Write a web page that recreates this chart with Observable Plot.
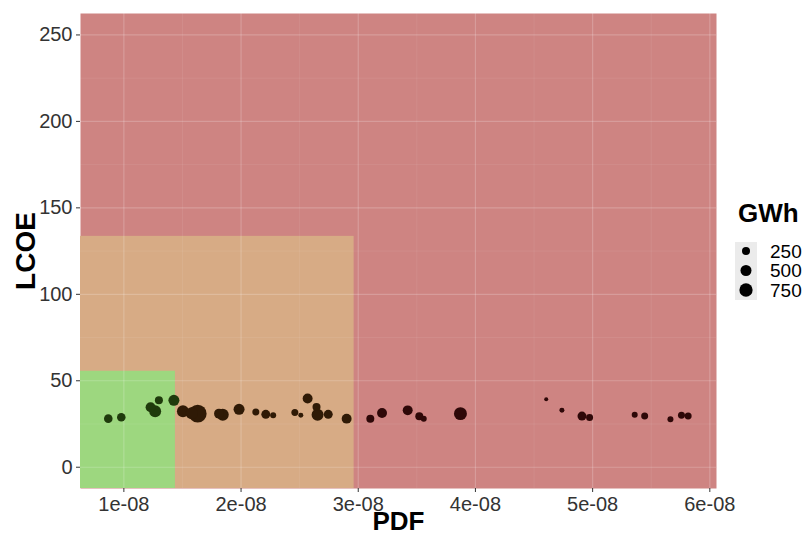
<!DOCTYPE html>
<html><head><meta charset="utf-8">
<script src="https://cdn.jsdelivr.net/npm/d3@7"></script>
<script src="https://cdn.jsdelivr.net/npm/@observablehq/plot@0.6"></script>
<style>
body{margin:0;background:#fff;font-family:"Liberation Sans",Arial,sans-serif;}
#wrap{position:relative;width:805px;height:536px;overflow:hidden;}
#legend{position:absolute;left:728px;top:190px;}
</style></head><body>
<div id="wrap"><div id="chart"></div><div id="legend"></div></div>
<script>
// ---- data ----
const pdf = [0.867e-8,0.978e-8,1.228e-8,1.267e-8,1.299e-8,1.427e-8,1.504e-8,1.579e-8,1.630e-8,1.812e-8,
             1.844e-8,1.983e-8,2.126e-8,2.211e-8,2.274e-8,2.459e-8,2.510e-8,2.568e-8,2.644e-8,2.653e-8,
             2.744e-8,2.901e-8,3.103e-8,3.203e-8,3.422e-8,3.521e-8,3.559e-8,3.872e-8,4.604e-8,4.738e-8,
             4.909e-8,4.974e-8,5.359e-8,5.444e-8,5.664e-8,5.758e-8,5.815e-8];
const lcoe = [28.1,28.9,34.7,32.4,38.7,38.7,32.4,31.2,31.0,31.0,
              30.4,33.5,31.9,30.6,30.0,31.6,30.0,39.7,34.8,30.4,
              30.6,28.1,28.1,31.4,32.9,29.5,28.1,31.0,39.3,32.9,
              29.6,28.7,30.4,29.6,27.7,30.0,29.6];
const gwh = [290,290,400,600,250,500,600,600,1400,400,
             600,500,185,320,130,185,85,400,250,600,
             320,400,250,400,400,250,130,710,50,85,
             320,185,130,185,130,185,185];
// zone thresholds (green, orange); red = everything else
const zoneNames = ["green","orange"];
const zonePdfMax = [1.44e-8, 2.965e-8];
const zoneLcoeMax = [55.5, 133.5];
// ticks
const xTicks = [1e-8,2e-8,3e-8,4e-8,5e-8,6e-8];
const xTickLabels = ["1e-08","2e-08","3e-08","4e-08","5e-08","6e-08"];
const xMinor = [1.5e-8,2.5e-8,3.5e-8,4.5e-8,5.5e-8];
const yTicks = [0,50,100,150,200,250];
const yMinor = [25,75,125,175,225];
const legendValues = [250,500,750];

// ---- styles ----
const zoneFill = {green:"#9dd77f", orange:"#d7ab85", red:"#ce8482"};
const pointFill = {green:"#1f3a0c", orange:"#2f1a06", red:"#2e0808"};
const xDomain = [0.63e-8, 6.057e-8];
const yDomain = [-12.3, 262.4];
const rOpts = {type:"pow", exponent:0.5, domain:[0,1500], range:[0.39, 9.24]};

const pts = pdf.map((x,i)=>({x, y:lcoe[i], g:gwh[i]}));
const zoneOf = d => (d.x < zonePdfMax[0] && d.y < zoneLcoeMax[0]) ? "green"
                 : (d.x < zonePdfMax[1] && d.y < zoneLcoeMax[1]) ? "orange" : "red";
const zones = zoneNames.map((n,i)=>({n, x2:zonePdfMax[i], y2:zoneLcoeMax[i]})).reverse();

const chart = Plot.plot({
  width: 805, height: 536,
  marginLeft: 80, marginRight: 89, marginTop: 13, marginBottom: 48,
  style: {fontFamily:"'Liberation Sans', Arial, sans-serif", fontSize:"20px", color:"#333", background:"#fff"},
  x: {domain: xDomain},
  y: {domain: yDomain},
  r: rOpts,
  marks: [
    Plot.frame({fill: zoneFill.red}),
    Plot.rect(zones, {x1: () => xDomain[0], x2: d => d.x2, y1: () => yDomain[0], y2: d => d.y2, fill: d => zoneFill[d.n]}),
    Plot.gridX(xMinor, {stroke:"#fff", strokeOpacity:0.1, strokeWidth:0.7}),
    Plot.gridY(yMinor, {stroke:"#fff", strokeOpacity:0.1, strokeWidth:0.7}),
    Plot.gridX(xTicks, {stroke:"#fff", strokeOpacity:0.2, strokeWidth:1.2}),
    Plot.gridY(yTicks, {stroke:"#fff", strokeOpacity:0.2, strokeWidth:1.2}),
    Plot.dot(pts, {x:"x", y:"y", r:"g", fill: d => pointFill[zoneOf(d)], stroke:"none"}),
    Plot.axisX(xTicks, {tickSize:4, tickPadding:4, stroke:"#333", fill:"#333", fontSize:20,
      tickFormat: d => xTickLabels[xTicks.indexOf(d)], label:null}),
    Plot.axisY(yTicks, {tickSize:4, tickPadding:4, stroke:"#333", fill:"#333", fontSize:20, label:null}),
    Plot.text(["PDF"], {frameAnchor:"bottom", text: d => d, dy:33, lineAnchor:"middle", fontSize:26, fontWeight:"bold", fill:"#000"}),
    Plot.text(["LCOE"], {frameAnchor:"left", text: d => d, dx:-54, rotate:-90, textAnchor:"middle", lineAnchor:"middle", fontSize:28, fontWeight:"bold", fill:"#000"})
  ]
});
document.getElementById("chart").appendChild(chart);

// ---- legend ----
const rs = Plot.scale({r: rOpts});
const svg = d3.select("#legend").append("svg").attr("width",77).attr("height",120)
  .style("font-family","'Liberation Sans', Arial, sans-serif");
svg.append("text").attr("x",10).attr("y",32).attr("font-size",26).attr("font-weight","bold").attr("fill","#000").text("GWh");
svg.append("rect").attr("x",7).attr("y",52).attr("width",22).attr("height",58).attr("fill","#ebebeb");
legendValues.forEach((v,i)=>{
  const cy = 61 + i*19.5;
  svg.append("circle").attr("cx",18).attr("cy",cy).attr("r",rs.apply(v)).attr("fill","#000");
  svg.append("text").attr("x",42).attr("y",cy).attr("dy","0.35em").attr("font-size",19).attr("fill","#000").text(v);
});
</script>
</body></html>
